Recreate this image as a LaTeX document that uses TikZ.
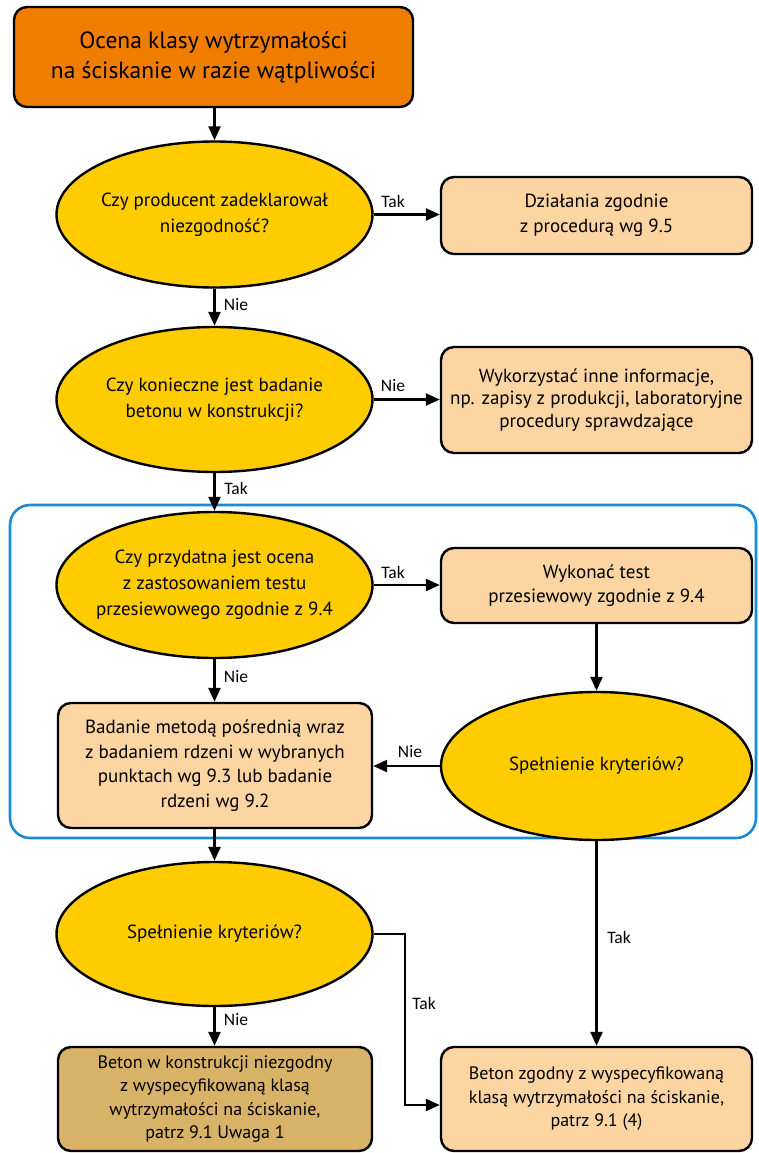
\documentclass[tikz,border=0pt]{standalone}
\usepackage{fontspec}
\setmainfont{PT Sans}
\newfontfamily\labfont{Carlito}
\usetikzlibrary{shapes.geometric,arrows.meta,calc}
\definecolor{orangeC}{HTML}{EE7D00}
\definecolor{yel}{HTML}{FFCC00}
\definecolor{peach}{HTML}{FCD5A2}
\definecolor{tanC}{HTML}{D8B266}
\definecolor{blueC}{HTML}{1A8AD4}
\tikzset{
  decision/.style={ellipse, draw, line width=2.4pt, fill=yel, minimum width=316pt,
    minimum height=146pt, inner xsep=-20pt, inner ysep=0pt, align=center, font=\fontsize{19}{26}\selectfont},
  procbox/.style={rectangle, rounded corners=13pt, draw, line width=2.4pt, fill=peach,
    align=center, inner sep=0pt, font=\fontsize{19}{24.5}\selectfont},
  arr/.style={line width=2.4pt, -{Triangle[length=14pt,width=12pt]}},
  lab/.style={font=\labfont\fontsize{17.5}{20}\selectfont, inner sep=0pt},
}
\begin{document}
\begin{tikzpicture}[x=1pt,y=-1pt]
\useasboundingbox (0,0) rectangle (758,1153);
% blue frame
\draw[blueC, line width=2.6pt, rounded corners=20pt] (10,505) rectangle (756,838);
% nodes
\node[procbox, fill=orangeC, minimum width=399pt, minimum height=100pt,
  font=\fontsize{23.5}{30}\selectfont] (start) at (213.5,57)
  {Ocena klasy wytrzymałości\\na ściskanie w razie wątpliwości};
\node[decision] (e1) at (214.5,214.5) {Czy producent zadeklarował\\niezgodność?};
\node[procbox, minimum width=311pt, minimum height=77pt] (b1) at (596.5,215.5)
  {Działania zgodnie\\z procedurą wg 9.5};
\node[decision, minimum height=145pt] (e2) at (214.5,399.5) {Czy konieczne jest badanie\\betonu w konstrukcji?};
\node[procbox, minimum width=311pt, minimum height=106pt, font=\fontsize{19}{22.5}\selectfont] (b2) at (596.5,400)
  {Wykorzystać inne informacje,\\np. zapisy z produkcji, laboratoryjne\\procedury sprawdzające};
\node[decision] (e3) at (214.5,585) {Czy przydatna jest ocena\\z zastosowaniem testu\\przesiewowego zgodnie z 9.4};
\node[procbox, minimum width=311pt, minimum height=75pt] (b3) at (596.5,585.5)
  {Wykonać test\\przesiewowy zgodnie z 9.4};
\node[decision, minimum width=311pt, minimum height=148pt] (e4) at (596.5,766) {Spełnienie kryteriów?};
\node[procbox, minimum width=314pt, minimum height=125pt] (b4) at (215,765.5)
  {Badanie metodą pośrednią wraz\\z badaniem rdzeni w wybranych\\punktach wg 9.3 lub badanie\\rdzeni wg 9.2};
\node[decision, minimum height=144pt] (e5) at (214.5,934) {Spełnienie kryteriów?};
\node[procbox, fill=tanC, minimum width=314pt, minimum height=104pt, font=\fontsize{18}{23.5}\selectfont] (b5) at (215,1099)
  {Beton w konstrukcji niezgodny\\z wyspecyfikowaną klasą\\wytrzymałości na ściskanie,\\patrz 9.1 Uwaga 1};
\node[procbox, minimum width=311pt, minimum height=104pt, font=\fontsize{18}{23.5}\selectfont] (b6) at (596.5,1099)
  {Beton zgodny z wyspecyfikowaną\\klasą wytrzymałości na ściskanie,\\patrz 9.1 (4)};
% connectors
\draw[arr] (start.south -| e1.north) -- (e1.north);
\draw[arr] (e1.east) -- (e1.east -| b1.west);
\draw[arr] (e1.south) -- (e2.north);
\draw[arr] (e2.east) -- (e2.east -| b2.west);
\draw[arr] (e2.south) -- (e3.north);
\draw[arr] (e3.east) -- (e3.east -| b3.west);
\draw[arr] (b3.south -| e4.north) -- (e4.north);
\draw[arr] (e4.west) -- (e4.west -| b4.east);
\draw[arr] (e3.south) -- (e3.south |- b4.north);
\draw[arr] (b4.south -| e5.north) -- (e5.north);
\draw[arr] (e5.south) -- (e5.south |- b5.north);
\draw[arr] (e4.south) -- (e4.south |- b6.north);
\coordinate (r1) at (405,934);
\coordinate (r2) at (405,1105);
\draw[arr] (e5.east) -- (r1) -- (r2) -- (r2 -| b6.west);
% labels
\node[lab] (l1) at (393,201) {Tak};
\node[lab] (l2) at (236,305) {Nie};
\node[lab] (l3) at (393,386) {Nie};
\node[lab] (l4) at (236,488) {Tak};
\node[lab] (l5) at (393,572) {Tak};
\node[lab] (l6) at (236,677) {Nie};
\node[lab] (l7) at (410,752) {Nie};
\node[lab] (l8) at (424,1003) {Tak};
\node[lab] (l9) at (619,937) {Tak};
\node[lab] (l10) at (236,1020) {Nie};
\end{tikzpicture}
\end{document}
